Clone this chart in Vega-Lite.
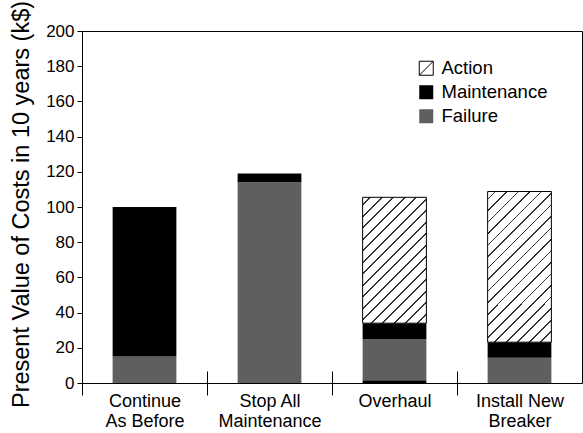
{
  "$schema": "https://vega.github.io/schema/vega-lite/v6.json",
  "width": 500,
  "height": 352,
  "autosize": "none",
  "padding": {"left": 82, "top": 31, "right": 1, "bottom": 50},
  "background": "white",
  "config": {
    "view": {"stroke": "black", "strokeWidth": 1},
    "font": "Liberation Sans"
  },
  "data": {
    "values": [
      {"strategy": "Continue|As Before", "component": "Failure", "ord": 1, "cost": 15},
      {"strategy": "Continue|As Before", "component": "Maintenance", "ord": 2, "cost": 85},
      {"strategy": "Stop All|Maintenance", "component": "Failure", "ord": 1, "cost": 114},
      {"strategy": "Stop All|Maintenance", "component": "Maintenance", "ord": 2, "cost": 5},
      {"strategy": "Overhaul", "component": "Maintenance", "ord": 0, "cost": 1.5},
      {"strategy": "Overhaul", "component": "Failure", "ord": 1, "cost": 23.5},
      {"strategy": "Overhaul", "component": "Maintenance", "ord": 2, "cost": 9},
      {"strategy": "Overhaul", "component": "Action", "ord": 3, "cost": 71.5},
      {"strategy": "Install New|Breaker", "component": "Failure", "ord": 1, "cost": 14.3},
      {"strategy": "Install New|Breaker", "component": "Maintenance", "ord": 2, "cost": 8.9},
      {"strategy": "Install New|Breaker", "component": "Action", "ord": 3, "cost": 85.6}
    ]
  },
  "mark": {"type": "bar", "strokeWidth": 1},
  "encoding": {
    "x": {
      "field": "strategy",
      "type": "nominal",
      "sort": null,
      "scale": {"paddingInner": 0.49, "paddingOuter": 0.245},
      "axis": {
        "title": null,
        "labelAngle": 0,
        "labelExpr": "split(datum.label, '|')",
        "labelFontSize": 18,
        "labelColor": "black",
        "labelLineHeight": 20,
        "labelBaseline": "top",
        "labelPadding": -3,
        "labelOffset": 62.5,
        "tickOffset": -62.5,
        "tickSize": 24,
        "tickColor": "black",
        "tickWidth": 1,
        "offset": -12,
        "domain": false,
        "grid": false
      }
    },
    "y": {
      "field": "cost",
      "type": "quantitative",
      "stack": "zero",
      "scale": {"domain": [0, 200], "nice": false},
      "axis": {
        "title": "Present Value of Costs in 10 years (k$)",
        "titleFontSize": 23.5,
        "titleFontWeight": "normal",
        "titleColor": "black",
        "titleX": -54,
        "titleY": 173,
        "titleAlign": "center",
        "titleBaseline": "alphabetic",
        "titleAngle": -90,
        "values": [0, 20, 40, 60, 80, 100, 120, 140, 160, 180, 200],
        "labelFontSize": 17,
        "labelColor": "black",
        "labelPadding": 3,
        "tickSize": 5,
        "tickColor": "black",
        "domainColor": "black",
        "grid": false
      }
    },
    "order": {"field": "ord"},
    "fill": {
      "condition": [
        {
          "test": "datum.component === 'Action' && datum.strategy === 'Overhaul'",
          "value": {
            "gradient": "linear", "x1": 0, "y1": 0, "x2": 0.7372, "y2": 1.4547,
            "stops": [
              {"offset": 0, "color": "white"},
              {"offset": 0.03, "color": "white"}, {"offset": 0.03, "color": "#333"}, {"offset": 0.038, "color": "#333"}, {"offset": 0.038, "color": "white"},
              {"offset": 0.08, "color": "white"}, {"offset": 0.08, "color": "#333"}, {"offset": 0.088, "color": "#333"}, {"offset": 0.088, "color": "white"},
              {"offset": 0.13, "color": "white"}, {"offset": 0.13, "color": "#333"}, {"offset": 0.138, "color": "#333"}, {"offset": 0.138, "color": "white"},
              {"offset": 0.18, "color": "white"}, {"offset": 0.18, "color": "#333"}, {"offset": 0.188, "color": "#333"}, {"offset": 0.188, "color": "white"},
              {"offset": 0.23, "color": "white"}, {"offset": 0.23, "color": "#333"}, {"offset": 0.238, "color": "#333"}, {"offset": 0.238, "color": "white"},
              {"offset": 0.28, "color": "white"}, {"offset": 0.28, "color": "#333"}, {"offset": 0.288, "color": "#333"}, {"offset": 0.288, "color": "white"},
              {"offset": 0.33, "color": "white"}, {"offset": 0.33, "color": "#333"}, {"offset": 0.338, "color": "#333"}, {"offset": 0.338, "color": "white"},
              {"offset": 0.38, "color": "white"}, {"offset": 0.38, "color": "#333"}, {"offset": 0.388, "color": "#333"}, {"offset": 0.388, "color": "white"},
              {"offset": 0.43, "color": "white"}, {"offset": 0.43, "color": "#333"}, {"offset": 0.438, "color": "#333"}, {"offset": 0.438, "color": "white"},
              {"offset": 0.48, "color": "white"}, {"offset": 0.48, "color": "#333"}, {"offset": 0.488, "color": "#333"}, {"offset": 0.488, "color": "white"},
              {"offset": 0.53, "color": "white"}, {"offset": 0.53, "color": "#333"}, {"offset": 0.538, "color": "#333"}, {"offset": 0.538, "color": "white"},
              {"offset": 0.58, "color": "white"}, {"offset": 0.58, "color": "#333"}, {"offset": 0.588, "color": "#333"}, {"offset": 0.588, "color": "white"},
              {"offset": 0.63, "color": "white"}, {"offset": 0.63, "color": "#333"}, {"offset": 0.638, "color": "#333"}, {"offset": 0.638, "color": "white"},
              {"offset": 0.68, "color": "white"}, {"offset": 0.68, "color": "#333"}, {"offset": 0.688, "color": "#333"}, {"offset": 0.688, "color": "white"},
              {"offset": 0.73, "color": "white"}, {"offset": 0.73, "color": "#333"}, {"offset": 0.738, "color": "#333"}, {"offset": 0.738, "color": "white"},
              {"offset": 0.78, "color": "white"}, {"offset": 0.78, "color": "#333"}, {"offset": 0.788, "color": "#333"}, {"offset": 0.788, "color": "white"},
              {"offset": 0.83, "color": "white"}, {"offset": 0.83, "color": "#333"}, {"offset": 0.838, "color": "#333"}, {"offset": 0.838, "color": "white"},
              {"offset": 0.88, "color": "white"}, {"offset": 0.88, "color": "#333"}, {"offset": 0.888, "color": "#333"}, {"offset": 0.888, "color": "white"},
              {"offset": 0.93, "color": "white"}, {"offset": 0.93, "color": "#333"}, {"offset": 0.938, "color": "#333"}, {"offset": 0.938, "color": "white"},
              {"offset": 0.98, "color": "white"}, {"offset": 0.98, "color": "#333"}, {"offset": 0.988, "color": "#333"}, {"offset": 0.988, "color": "white"},
              {"offset": 1, "color": "white"}
            ]
          }
        },
        {
          "test": "datum.component === 'Action'",
          "value": {
            "gradient": "linear", "x1": 0, "y1": 0, "x2": 0.5489, "y2": 1.2958,
            "stops": [
              {"offset": 0, "color": "white"},
              {"offset": 0.03, "color": "white"}, {"offset": 0.03, "color": "#333"}, {"offset": 0.038, "color": "#333"}, {"offset": 0.038, "color": "white"},
              {"offset": 0.08, "color": "white"}, {"offset": 0.08, "color": "#333"}, {"offset": 0.088, "color": "#333"}, {"offset": 0.088, "color": "white"},
              {"offset": 0.13, "color": "white"}, {"offset": 0.13, "color": "#333"}, {"offset": 0.138, "color": "#333"}, {"offset": 0.138, "color": "white"},
              {"offset": 0.18, "color": "white"}, {"offset": 0.18, "color": "#333"}, {"offset": 0.188, "color": "#333"}, {"offset": 0.188, "color": "white"},
              {"offset": 0.23, "color": "white"}, {"offset": 0.23, "color": "#333"}, {"offset": 0.238, "color": "#333"}, {"offset": 0.238, "color": "white"},
              {"offset": 0.28, "color": "white"}, {"offset": 0.28, "color": "#333"}, {"offset": 0.288, "color": "#333"}, {"offset": 0.288, "color": "white"},
              {"offset": 0.33, "color": "white"}, {"offset": 0.33, "color": "#333"}, {"offset": 0.338, "color": "#333"}, {"offset": 0.338, "color": "white"},
              {"offset": 0.38, "color": "white"}, {"offset": 0.38, "color": "#333"}, {"offset": 0.388, "color": "#333"}, {"offset": 0.388, "color": "white"},
              {"offset": 0.43, "color": "white"}, {"offset": 0.43, "color": "#333"}, {"offset": 0.438, "color": "#333"}, {"offset": 0.438, "color": "white"},
              {"offset": 0.48, "color": "white"}, {"offset": 0.48, "color": "#333"}, {"offset": 0.488, "color": "#333"}, {"offset": 0.488, "color": "white"},
              {"offset": 0.53, "color": "white"}, {"offset": 0.53, "color": "#333"}, {"offset": 0.538, "color": "#333"}, {"offset": 0.538, "color": "white"},
              {"offset": 0.58, "color": "white"}, {"offset": 0.58, "color": "#333"}, {"offset": 0.588, "color": "#333"}, {"offset": 0.588, "color": "white"},
              {"offset": 0.63, "color": "white"}, {"offset": 0.63, "color": "#333"}, {"offset": 0.638, "color": "#333"}, {"offset": 0.638, "color": "white"},
              {"offset": 0.68, "color": "white"}, {"offset": 0.68, "color": "#333"}, {"offset": 0.688, "color": "#333"}, {"offset": 0.688, "color": "white"},
              {"offset": 0.73, "color": "white"}, {"offset": 0.73, "color": "#333"}, {"offset": 0.738, "color": "#333"}, {"offset": 0.738, "color": "white"},
              {"offset": 0.78, "color": "white"}, {"offset": 0.78, "color": "#333"}, {"offset": 0.788, "color": "#333"}, {"offset": 0.788, "color": "white"},
              {"offset": 0.83, "color": "white"}, {"offset": 0.83, "color": "#333"}, {"offset": 0.838, "color": "#333"}, {"offset": 0.838, "color": "white"},
              {"offset": 0.88, "color": "white"}, {"offset": 0.88, "color": "#333"}, {"offset": 0.888, "color": "#333"}, {"offset": 0.888, "color": "white"},
              {"offset": 0.93, "color": "white"}, {"offset": 0.93, "color": "#333"}, {"offset": 0.938, "color": "#333"}, {"offset": 0.938, "color": "white"},
              {"offset": 0.98, "color": "white"}, {"offset": 0.98, "color": "#333"}, {"offset": 0.988, "color": "#333"}, {"offset": 0.988, "color": "white"},
              {"offset": 1, "color": "white"}
            ]
          }
        }
      ],
      "field": "component",
      "type": "nominal",
      "scale": {
        "domain": ["Action", "Maintenance", "Failure"],
        "range": ["white", "black", "#5f5f5f"]
      },
      "legend": {
        "title": null,
        "orient": "none",
        "legendX": 335,
        "legendY": 28,
        "padding": 0,
        "symbolType": "M-1,-1H1V1H-1Z M-1,1L1,-1",
        "symbolSize": 196,
        "symbolStrokeWidth": 1,
        "labelFontSize": 18.5,
        "labelColor": "black",
        "labelOffset": 6,
        "rowPadding": 5
      }
    },
    "stroke": {
      "field": "component",
      "type": "nominal",
      "scale": {
        "domain": ["Action", "Maintenance", "Failure"],
        "range": ["black", "transparent", "transparent"]
      },
      "legend": {
        "title": null,
        "orient": "none",
        "legendX": 335,
        "legendY": 28,
        "padding": 0,
        "symbolType": "M-1,-1H1V1H-1Z M-1,1L1,-1",
        "symbolSize": 196,
        "symbolStrokeWidth": 1,
        "labelFontSize": 18.5,
        "labelColor": "black",
        "labelOffset": 6,
        "rowPadding": 5
      }
    }
  }
}
